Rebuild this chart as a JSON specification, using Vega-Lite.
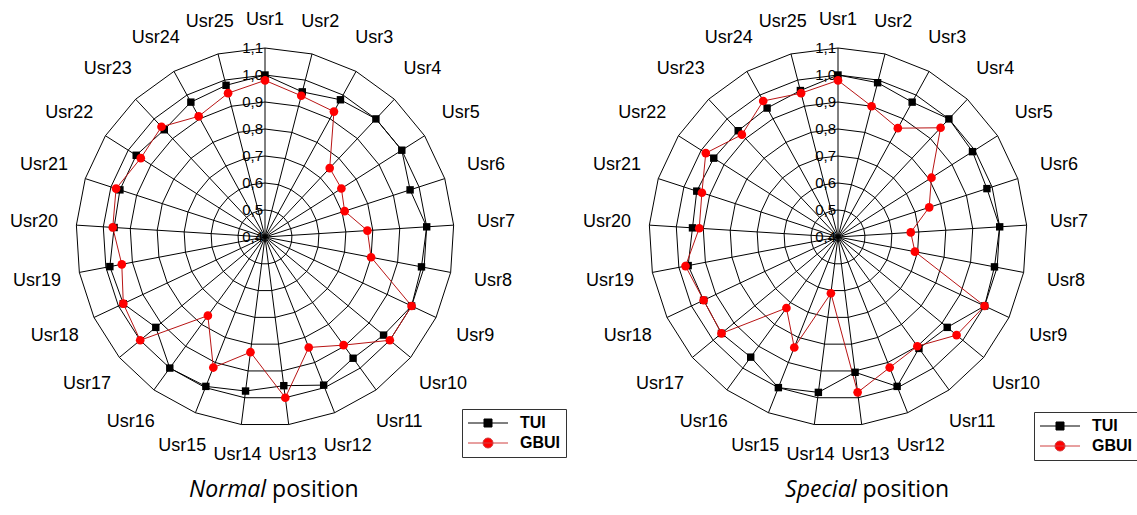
{
  "$schema": "https://vega.github.io/schema/vega-lite/v6.json",
  "padding": 0,
  "spacing": 0,
  "background": "white",
  "config": {
    "view": {"stroke": null},
    "locale": {"number": {"decimal": ",", "thousands": ".", "grouping": [3], "currency": ["", " €"]}}
  },
  "datasets": {
    "scores": [
      {"panel": "Normal", "n": 1, "TUI": 1.0, "GBUI": 0.98},
      {"panel": "Normal", "n": 2, "TUI": 0.955, "GBUI": 0.94},
      {"panel": "Normal", "n": 3, "TUI": 0.98, "GBUI": 0.93},
      {"panel": "Normal", "n": 4, "TUI": 1.0, "GBUI": 0.75},
      {"panel": "Normal", "n": 5, "TUI": 1.0, "GBUI": 0.735},
      {"panel": "Normal", "n": 6, "TUI": 0.965, "GBUI": 0.71},
      {"panel": "Normal", "n": 7, "TUI": 1.0, "GBUI": 0.78},
      {"panel": "Normal", "n": 8, "TUI": 0.99, "GBUI": 0.8},
      {"panel": "Normal", "n": 9, "TUI": 1.0, "GBUI": 1.0},
      {"panel": "Normal", "n": 10, "TUI": 0.97, "GBUI": 1.0},
      {"panel": "Normal", "n": 11, "TUI": 0.955, "GBUI": 0.895},
      {"panel": "Normal", "n": 12, "TUI": 0.99, "GBUI": 0.84},
      {"panel": "Normal", "n": 13, "TUI": 0.955, "GBUI": 1.0},
      {"panel": "Normal", "n": 14, "TUI": 0.975, "GBUI": 0.83},
      {"panel": "Normal", "n": 15, "TUI": 0.995, "GBUI": 0.92},
      {"panel": "Normal", "n": 16, "TUI": 1.0, "GBUI": 0.76},
      {"panel": "Normal", "n": 17, "TUI": 0.925, "GBUI": 1.0},
      {"panel": "Normal", "n": 18, "TUI": 0.98, "GBUI": 0.98},
      {"panel": "Normal", "n": 19, "TUI": 0.985, "GBUI": 0.94},
      {"panel": "Normal", "n": 20, "TUI": 0.96, "GBUI": 0.965},
      {"panel": "Normal", "n": 21, "TUI": 0.965, "GBUI": 0.98},
      {"panel": "Normal", "n": 22, "TUI": 0.965, "GBUI": 0.945},
      {"panel": "Normal", "n": 23, "TUI": 0.945, "GBUI": 0.96},
      {"panel": "Normal", "n": 24, "TUI": 0.97, "GBUI": 0.91},
      {"panel": "Normal", "n": 25, "TUI": 0.98, "GBUI": 0.95},
      {"panel": "Special", "n": 1, "TUI": 1.0, "GBUI": 0.98},
      {"panel": "Special", "n": 2, "TUI": 0.99, "GBUI": 0.9},
      {"panel": "Special", "n": 3, "TUI": 0.97, "GBUI": 0.86},
      {"panel": "Special", "n": 4, "TUI": 1.0, "GBUI": 0.955},
      {"panel": "Special", "n": 5, "TUI": 0.99, "GBUI": 0.81},
      {"panel": "Special", "n": 6, "TUI": 0.98, "GBUI": 0.755},
      {"panel": "Special", "n": 7, "TUI": 1.0, "GBUI": 0.67},
      {"panel": "Special", "n": 8, "TUI": 0.99, "GBUI": 0.69},
      {"panel": "Special", "n": 9, "TUI": 1.0, "GBUI": 1.0},
      {"panel": "Special", "n": 10, "TUI": 0.925, "GBUI": 0.97},
      {"panel": "Special", "n": 11, "TUI": 0.91, "GBUI": 0.9},
      {"panel": "Special", "n": 12, "TUI": 0.995, "GBUI": 0.92},
      {"panel": "Special", "n": 13, "TUI": 0.905, "GBUI": 0.98},
      {"panel": "Special", "n": 14, "TUI": 0.98, "GBUI": 0.61},
      {"panel": "Special", "n": 15, "TUI": 1.0, "GBUI": 0.84},
      {"panel": "Special", "n": 16, "TUI": 0.95, "GBUI": 0.725},
      {"panel": "Special", "n": 17, "TUI": 0.96, "GBUI": 0.96},
      {"panel": "Special", "n": 18, "TUI": 0.95, "GBUI": 0.95},
      {"panel": "Special", "n": 19, "TUI": 0.965, "GBUI": 0.975},
      {"panel": "Special", "n": 20, "TUI": 0.94, "GBUI": 0.915},
      {"panel": "Special", "n": 21, "TUI": 0.95, "GBUI": 0.93},
      {"panel": "Special", "n": 22, "TUI": 0.945, "GBUI": 0.98},
      {"panel": "Special", "n": 23, "TUI": 0.94, "GBUI": 0.92},
      {"panel": "Special", "n": 24, "TUI": 0.945, "GBUI": 0.975},
      {"panel": "Special", "n": 25, "TUI": 0.96, "GBUI": 0.95}
    ],
    "spokes": [
      {"n": 1, "user": "Usr1"}, {"n": 2, "user": "Usr2"}, {"n": 3, "user": "Usr3"},
      {"n": 4, "user": "Usr4"}, {"n": 5, "user": "Usr5"}, {"n": 6, "user": "Usr6"},
      {"n": 7, "user": "Usr7"}, {"n": 8, "user": "Usr8"}, {"n": 9, "user": "Usr9"},
      {"n": 10, "user": "Usr10"}, {"n": 11, "user": "Usr11"}, {"n": 12, "user": "Usr12"},
      {"n": 13, "user": "Usr13"}, {"n": 14, "user": "Usr14"}, {"n": 15, "user": "Usr15"},
      {"n": 16, "user": "Usr16"}, {"n": 17, "user": "Usr17"}, {"n": 18, "user": "Usr18"},
      {"n": 19, "user": "Usr19"}, {"n": 20, "user": "Usr20"}, {"n": 21, "user": "Usr21"},
      {"n": 22, "user": "Usr22"}, {"n": 23, "user": "Usr23"}, {"n": 24, "user": "Usr24"},
      {"n": 25, "user": "Usr25"}
    ],
    "rings": [
      {"level": 0.5, "n": [1,2,3,4,5,6,7,8,9,10,11,12,13,14,15,16,17,18,19,20,21,22,23,24,25]},
      {"level": 0.6, "n": [1,2,3,4,5,6,7,8,9,10,11,12,13,14,15,16,17,18,19,20,21,22,23,24,25]},
      {"level": 0.7, "n": [1,2,3,4,5,6,7,8,9,10,11,12,13,14,15,16,17,18,19,20,21,22,23,24,25]},
      {"level": 0.8, "n": [1,2,3,4,5,6,7,8,9,10,11,12,13,14,15,16,17,18,19,20,21,22,23,24,25]},
      {"level": 0.9, "n": [1,2,3,4,5,6,7,8,9,10,11,12,13,14,15,16,17,18,19,20,21,22,23,24,25]},
      {"level": 1.0, "n": [1,2,3,4,5,6,7,8,9,10,11,12,13,14,15,16,17,18,19,20,21,22,23,24,25]},
      {"level": 1.1, "n": [1,2,3,4,5,6,7,8,9,10,11,12,13,14,15,16,17,18,19,20,21,22,23,24,25]}
    ],
    "ticks": [
      {"level": 0.4}, {"level": 0.5}, {"level": 0.6}, {"level": 0.7},
      {"level": 0.8}, {"level": 0.9}, {"level": 1.0}, {"level": 1.1}
    ],
    "captions": [
      {"panel": "Normal", "part": "emph", "word": "Normal"},
      {"panel": "Normal", "part": "rest", "word": "position"},
      {"panel": "Special", "part": "emph", "word": "Special"},
      {"panel": "Special", "part": "rest", "word": "position"}
    ]
  },
  "resolve": {
    "scale": {"x": "independent", "y": "independent", "color": "independent", "fill": "independent", "shape": "independent"},
    "legend": {"color": "independent", "fill": "independent", "shape": "independent"}
  },
  "hconcat": [
    {
      "width": 568,
      "height": 515,
      "encoding": {
        "x": {"field": "x", "type": "quantitative", "scale": {"domain": [-0.9815, 1.1222], "nice": false, "zero": false}, "axis": null},
        "y": {"field": "y", "type": "quantitative", "scale": {"domain": [-1.0296, 0.8778], "nice": false, "zero": false}, "axis": null}
      },
      "layer": [
        {
          "data": {"name": "ticks"},
          "transform": [
            {"calculate": "datum.level - 0.4", "as": "y"},
            {"calculate": "0", "as": "x"}
          ],
          "mark": {"type": "text", "align": "right", "baseline": "middle", "dx": -2, "font": "Liberation Sans", "fontSize": 15, "color": "black"},
          "encoding": {"text": {"field": "level", "type": "quantitative", "format": ".1f"}}
        },
        {
          "data": {"name": "rings"},
          "transform": [
            {"flatten": ["n"]},
            {"calculate": "(datum.n - 1) * 2 * PI / 25", "as": "a"},
            {"calculate": "(datum.level - 0.4) * sin(datum.a)", "as": "x"},
            {"calculate": "(datum.level - 0.4) * cos(datum.a)", "as": "y"}
          ],
          "mark": {"type": "line", "interpolate": "linear-closed", "stroke": "black", "strokeWidth": 1},
          "encoding": {"detail": {"field": "level", "type": "nominal"}, "order": {"field": "n", "type": "quantitative"}}
        },
        {
          "data": {"name": "spokes"},
          "transform": [
            {"calculate": "(datum.n - 1) * 2 * PI / 25", "as": "a"},
            {"calculate": "0", "as": "x"},
            {"calculate": "0", "as": "y"},
            {"calculate": "0.7 * sin(datum.a)", "as": "x2"},
            {"calculate": "0.7 * cos(datum.a)", "as": "y2"}
          ],
          "mark": {"type": "rule", "stroke": "black", "strokeWidth": 1},
          "encoding": {"x2": {"field": "x2"}, "y2": {"field": "y2"}}
        },
        {
          "data": {"name": "scores"},
          "transform": [
            {"filter": "datum.panel === 'Normal'"},
            {"fold": ["TUI", "GBUI"], "as": ["series", "value"]},
            {"calculate": "(datum.n - 1) * 2 * PI / 25", "as": "a"},
            {"calculate": "(datum.value - 0.4) * sin(datum.a)", "as": "x"},
            {"calculate": "(datum.value - 0.4) * cos(datum.a)", "as": "y"}
          ],
          "layer": [
            {
              "transform": [{"filter": "datum.series === 'TUI'"}],
              "mark": {"type": "line", "interpolate": "linear-closed", "stroke": "black", "strokeWidth": 1},
              "encoding": {"order": {"field": "n", "type": "quantitative"}}
            },
            {
              "transform": [{"filter": "datum.series === 'GBUI'"}],
              "mark": {"type": "line", "interpolate": "linear-closed", "stroke": "#b81414", "strokeWidth": 1},
              "encoding": {"order": {"field": "n", "type": "quantitative"}}
            },
            {
              "transform": [{"filter": "datum.series === 'TUI'"}],
              "mark": {"type": "point", "shape": "square", "filled": true, "color": "black", "opacity": 1, "size": 55}
            },
            {
              "transform": [{"filter": "datum.series === 'GBUI'"}],
              "mark": {"type": "point", "shape": "circle", "filled": true, "color": "#ff0000", "opacity": 1, "size": 75}
            },
            {
              "mark": {"type": "point", "filled": false, "opacity": 0},
              "encoding": {
                "color": {
                  "field": "series", "type": "nominal",
                  "scale": {"domain": ["TUI", "GBUI"], "range": ["black", "#d04040"]},
                  "legend": {
                    "title": null, "orient": "none", "legendX": 462, "legendY": 409,
                    "direction": "vertical", "strokeColor": "#333333", "fillColor": "white", "padding": 6,
                    "labelFont": "Liberation Sans", "labelFontSize": 16, "labelFontWeight": "bold", "labelColor": "black",
                    "symbolSize": 100, "symbolOffset": 12, "labelOffset": 24, "rowPadding": 4,
                    "symbolOpacity": 1, "symbolStrokeWidth": 1
                  }
                },
                "fill": {
                  "field": "series", "type": "nominal",
                  "scale": {"domain": ["TUI", "GBUI"], "range": ["black", "#ff0000"]}
                },
                "shape": {
                  "field": "series", "type": "nominal",
                  "scale": {"domain": ["TUI", "GBUI"], "range": ["M-4,0H4M-0.8,-0.8H0.8V0.8H-0.8Z", "M-4,0H4M-1,0A1,1 0 1,0 1,0A1,1 0 1,0 -1,0Z"]}
                }
              }
            }
          ]
        },
        {
          "data": {"name": "spokes"},
          "transform": [
            {"calculate": "(datum.n - 1) * 2 * PI / 25", "as": "a"},
            {"calculate": "(209 + 22 * abs(sin(datum.a)) + 8 * abs(cos(datum.a))) / 270", "as": "lr"},
            {"calculate": "datum.lr * sin(datum.a)", "as": "x"},
            {"calculate": "datum.lr * cos(datum.a)", "as": "y"}
          ],
          "mark": {"type": "text", "align": "center", "baseline": "middle", "font": "Liberation Sans", "fontSize": 18, "color": "black"},
          "encoding": {"text": {"field": "user", "type": "nominal"}}
        },
        {
          "data": {"name": "captions"},
          "transform": [
            {"filter": "datum.panel === 'Normal' && datum.part === 'emph'"},
            {"calculate": "0.004", "as": "x"},
            {"calculate": "-0.937", "as": "y"}
          ],
          "mark": {"type": "text", "align": "right", "baseline": "middle", "font": "Open Sans", "fontSize": 23, "fontStyle": "italic", "color": "black"},
          "encoding": {"text": {"field": "word"}}
        },
        {
          "data": {"name": "captions"},
          "transform": [
            {"filter": "datum.panel === 'Normal' && datum.part === 'rest'"},
            {"calculate": "0.004", "as": "x"},
            {"calculate": "-0.937", "as": "y"}
          ],
          "mark": {"type": "text", "align": "left", "baseline": "middle", "dx": 6, "font": "Open Sans", "fontSize": 23, "color": "black"},
          "encoding": {"text": {"field": "word"}}
        }
      ]
    },
    {
      "width": 569,
      "height": 515,
      "encoding": {
        "x": {"field": "x", "type": "quantitative", "scale": {"domain": [-1.0, 1.1074], "nice": false, "zero": false}, "axis": null},
        "y": {"field": "y", "type": "quantitative", "scale": {"domain": [-1.0296, 0.8778], "nice": false, "zero": false}, "axis": null}
      },
      "layer": [
        {
          "data": {"name": "ticks"},
          "transform": [
            {"calculate": "datum.level - 0.4", "as": "y"},
            {"calculate": "0", "as": "x"}
          ],
          "mark": {"type": "text", "align": "right", "baseline": "middle", "dx": -2, "font": "Liberation Sans", "fontSize": 15, "color": "black"},
          "encoding": {"text": {"field": "level", "type": "quantitative", "format": ".1f"}}
        },
        {
          "data": {"name": "rings"},
          "transform": [
            {"flatten": ["n"]},
            {"calculate": "(datum.n - 1) * 2 * PI / 25", "as": "a"},
            {"calculate": "(datum.level - 0.4) * sin(datum.a)", "as": "x"},
            {"calculate": "(datum.level - 0.4) * cos(datum.a)", "as": "y"}
          ],
          "mark": {"type": "line", "interpolate": "linear-closed", "stroke": "black", "strokeWidth": 1},
          "encoding": {"detail": {"field": "level", "type": "nominal"}, "order": {"field": "n", "type": "quantitative"}}
        },
        {
          "data": {"name": "spokes"},
          "transform": [
            {"calculate": "(datum.n - 1) * 2 * PI / 25", "as": "a"},
            {"calculate": "0", "as": "x"},
            {"calculate": "0", "as": "y"},
            {"calculate": "0.7 * sin(datum.a)", "as": "x2"},
            {"calculate": "0.7 * cos(datum.a)", "as": "y2"}
          ],
          "mark": {"type": "rule", "stroke": "black", "strokeWidth": 1},
          "encoding": {"x2": {"field": "x2"}, "y2": {"field": "y2"}}
        },
        {
          "data": {"name": "scores"},
          "transform": [
            {"filter": "datum.panel === 'Special'"},
            {"fold": ["TUI", "GBUI"], "as": ["series", "value"]},
            {"calculate": "(datum.n - 1) * 2 * PI / 25", "as": "a"},
            {"calculate": "(datum.value - 0.4) * sin(datum.a)", "as": "x"},
            {"calculate": "(datum.value - 0.4) * cos(datum.a)", "as": "y"}
          ],
          "layer": [
            {
              "transform": [{"filter": "datum.series === 'TUI'"}],
              "mark": {"type": "line", "interpolate": "linear-closed", "stroke": "black", "strokeWidth": 1},
              "encoding": {"order": {"field": "n", "type": "quantitative"}}
            },
            {
              "transform": [{"filter": "datum.series === 'GBUI'"}],
              "mark": {"type": "line", "interpolate": "linear-closed", "stroke": "#b81414", "strokeWidth": 1},
              "encoding": {"order": {"field": "n", "type": "quantitative"}}
            },
            {
              "transform": [{"filter": "datum.series === 'TUI'"}],
              "mark": {"type": "point", "shape": "square", "filled": true, "color": "black", "opacity": 1, "size": 55}
            },
            {
              "transform": [{"filter": "datum.series === 'GBUI'"}],
              "mark": {"type": "point", "shape": "circle", "filled": true, "color": "#ff0000", "opacity": 1, "size": 75}
            },
            {
              "mark": {"type": "point", "filled": false, "opacity": 0},
              "encoding": {
                "color": {
                  "field": "series", "type": "nominal",
                  "scale": {"domain": ["TUI", "GBUI"], "range": ["black", "#d04040"]},
                  "legend": {
                    "title": null, "orient": "none", "legendX": 466, "legendY": 412,
                    "direction": "vertical", "strokeColor": "#333333", "fillColor": "white", "padding": 6,
                    "labelFont": "Liberation Sans", "labelFontSize": 16, "labelFontWeight": "bold", "labelColor": "black",
                    "symbolSize": 100, "symbolOffset": 12, "labelOffset": 24, "rowPadding": 4,
                    "symbolOpacity": 1, "symbolStrokeWidth": 1
                  }
                },
                "fill": {
                  "field": "series", "type": "nominal",
                  "scale": {"domain": ["TUI", "GBUI"], "range": ["black", "#ff0000"]}
                },
                "shape": {
                  "field": "series", "type": "nominal",
                  "scale": {"domain": ["TUI", "GBUI"], "range": ["M-4,0H4M-0.8,-0.8H0.8V0.8H-0.8Z", "M-4,0H4M-1,0A1,1 0 1,0 1,0A1,1 0 1,0 -1,0Z"]}
                }
              }
            }
          ]
        },
        {
          "data": {"name": "spokes"},
          "transform": [
            {"calculate": "(datum.n - 1) * 2 * PI / 25", "as": "a"},
            {"calculate": "(209 + 22 * abs(sin(datum.a)) + 8 * abs(cos(datum.a))) / 270", "as": "lr"},
            {"calculate": "datum.lr * sin(datum.a)", "as": "x"},
            {"calculate": "datum.lr * cos(datum.a)", "as": "y"}
          ],
          "mark": {"type": "text", "align": "center", "baseline": "middle", "font": "Liberation Sans", "fontSize": 18, "color": "black"},
          "encoding": {"text": {"field": "user", "type": "nominal"}}
        },
        {
          "data": {"name": "captions"},
          "transform": [
            {"filter": "datum.panel === 'Special' && datum.part === 'emph'"},
            {"calculate": "0.0685", "as": "x"},
            {"calculate": "-0.937", "as": "y"}
          ],
          "mark": {"type": "text", "align": "right", "baseline": "middle", "font": "Open Sans", "fontSize": 23, "fontStyle": "italic", "color": "black"},
          "encoding": {"text": {"field": "word"}}
        },
        {
          "data": {"name": "captions"},
          "transform": [
            {"filter": "datum.panel === 'Special' && datum.part === 'rest'"},
            {"calculate": "0.0685", "as": "x"},
            {"calculate": "-0.937", "as": "y"}
          ],
          "mark": {"type": "text", "align": "left", "baseline": "middle", "dx": 6, "font": "Open Sans", "fontSize": 23, "color": "black"},
          "encoding": {"text": {"field": "word"}}
        }
      ]
    }
  ]
}
